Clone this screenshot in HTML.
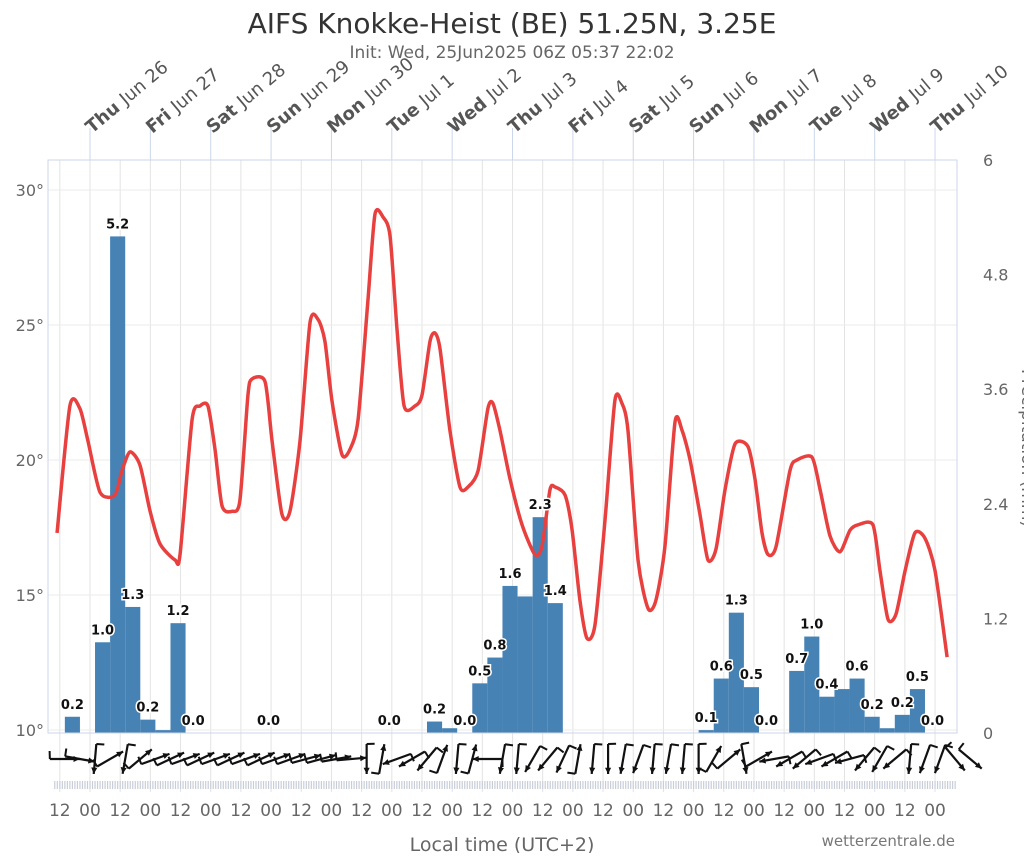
<!DOCTYPE html>
<html><head><meta charset="utf-8"><style>
body{margin:0;background:#fff;font-family:"Liberation Sans","DejaVu Sans",sans-serif}
svg text{font-family:"DejaVu Sans","Liberation Sans",sans-serif}
</style></head><body>
<svg id="chart" width="1024" height="853" viewBox="0 0 1024 853" xmlns="http://www.w3.org/2000/svg">
<text x="512" y="33" text-anchor="middle" font-size="28" fill="#333">AIFS Knokke-Heist (BE) 51.25N, 3.25E</text>
<text x="512" y="58" text-anchor="middle" font-size="17" fill="#666">Init: Wed, 25Jun2025 06Z 05:37 22:02</text>
<g id="grid"></g><g id="bars"></g><g id="temp"></g><g id="labels"></g><g id="axes"></g><g id="wind"></g>
<text x="502" y="851" text-anchor="middle" font-size="19" fill="#666">Local time (UTC+2)</text>
<text x="955" y="846" text-anchor="end" font-size="15" fill="#777">wetterzentrale.de</text>
<text transform="translate(1022,448) rotate(90)" text-anchor="middle" font-size="17" fill="#666">Precipitation (mm)</text>
</svg>
<script>
// ---- data ----
const days = ["Thu|Jun 26","Fri|Jun 27","Sat|Jun 28","Sun|Jun 29","Mon|Jun 30","Tue|Jul 1","Wed|Jul 2","Thu|Jul 3","Fri|Jul 4","Sat|Jul 5","Sun|Jul 6","Mon|Jul 7","Tue|Jul 8","Wed|Jul 9","Thu|Jul 10"];
const tempTicks = [10,15,20,25,30];
const precTicks = ["0","1.2","2.4","3.6","4.8","6"];
// precipitation per 6h, starting hour -10 (relative to Thu Jun 26 00 local)
const precStart = -10;
const precip = [0.17,0,0.95,5.2,1.32,0.14,0.03,1.15,0,0,0,0,0,0,0,0,0,0,0,0,0,0,0,0,0.12,0.05,0,0.52,0.79,1.54,1.43,2.26,1.36,0,0,0,0,0,0,0,0,0,0.03,0.57,1.26,0.48,0,0,0.65,1.01,0.38,0.46,0.57,0.17,0.05,0.19,0.46,0];
const precLabelIdx = [0,2,3,4,5,7,8,13,21,24,26,27,28,29,31,32,42,43,44,45,46,48,49,50,52,53,55,56,57];
const precLabelTxt = ["0.2","1.0","5.2","1.3","0.2","1.2","0.0","0.0","0.0","0.2","0.0","0.5","0.8","1.6","2.3","1.4","0.1","0.6","1.3","0.5","0.0","0.7","1.0","0.4","0.6","0.2","0.2","0.5","0.0"];
const hours = [-13.1,-8,-4,-0.8,4,9.9,12.7,15.9,19.9,23.9,27.8,33.8,35.8,40.6,43.7,46.9,49.7,52.5,56.5,59.6,62.8,64.4,69.6,72.4,76.3,79.5,83.5,87.5,90.7,93.4,96.2,100.2,103.4,106.6,110.5,113.3,116.5,119.3,122.1,124.9,129.2,132,135.2,137.2,139.2,143.1,147.1,150.3,154.3,158.2,160.2,163,167,171.8,176.9,179.7,182.9,184.9,188.9,191.7,194.8,197.6,200.8,204.8,208.7,211.5,213.9,217.9,221.9,225,228.6,232.6,235.4,238.6,242.5,245.7,248.9,252.5,256.5,261.6,264.4,267.2,269.6,272.8,278.3,281.1,287.1,290.3,294.2,298.2,302.2,305.4,311.3,314.1,317.3,320.5,324.1,328,332,336,340.8];
const temps = [17.3,22.0,21.9,20.7,18.8,18.7,19.6,20.3,19.8,18.1,16.9,16.3,16.5,21.5,22.0,22.0,20.4,18.3,18.1,18.5,22.4,23.0,22.9,20.7,18.0,18.1,20.7,25.1,25.2,24.4,22.2,20.2,20.4,21.5,25.9,29.1,29.0,28.3,24.8,22.0,22.0,22.4,24.4,24.7,24.1,21.1,19.0,19.0,19.6,21.9,22.1,21.1,19.3,17.6,16.5,16.8,18.9,19.0,18.7,17.4,14.8,13.4,13.9,17.8,22.2,22.1,21.1,16.3,14.5,14.8,16.8,21.4,21.1,20.0,18.0,16.3,16.7,18.9,20.6,20.5,19.3,17.3,16.5,16.8,19.6,20.0,20.1,18.9,17.2,16.6,17.4,17.6,17.6,15.9,14.1,14.3,15.9,17.3,17.1,15.9,12.7];
// wind arrow direction (deg, screen angle arrow points) every 6h from hour -10
const windDir = [0,10,95,-30,100,-40,-20,-25,-20,-25,-20,-25,-20,-25,-20,-20,-15,-15,-10,-5,90,-80,160,150,130,-70,95,-75,180,100,95,120,130,115,-80,95,90,100,110,95,100,95,90,-60,-40,80,-30,170,150,140,160,150,165,130,120,140,95,110,110,50,40];
// ---- helpers ----
const NS="http://www.w3.org/2000/svg";
const L=48,R=957,T=160,B=733;
const xH=h=>90+h*60.36/24;
const yT=t=>730-(t-10)*27;
const yP=p=>B-p*95.5;
function mk(tag,attrs,parent){const e=document.createElementNS(NS,tag);for(const k in attrs)e.setAttribute(k,attrs[k]);parent.appendChild(e);return e;}
const grid=document.getElementById('grid'),bars=document.getElementById('bars'),tg=document.getElementById('temp'),lg=document.getElementById('labels'),ax=document.getElementById('axes'),wg=document.getElementById('wind');
for(let h=-24;h<=360;h+=12){const x=xH(h);if(x<L||x>R)continue;
 const g=mk('line',{x1:x,x2:x,y1:T,y2:792,stroke:'#e3e3e3','stroke-width':1},grid);
 }
tempTicks.forEach(t=>{const y=yT(t);
 const g=mk('line',{x1:L,x2:R,y1:y,y2:y,stroke:'#ebebeb','stroke-width':1},grid);
 
 const tx=mk('text',{x:44,y:y+6,'text-anchor':'end','font-size':16,fill:'#666'},ax);tx.textContent=t+'°';
 });
precTicks.forEach(p=>{const y=yP(parseFloat(p));
 const tx=mk('text',{x:983,y:y+6,'text-anchor':'start','font-size':16,fill:'#666'},ax);tx.textContent=p;
 });
const fr=mk('rect',{x:L,y:T,width:R-L,height:B-T,fill:'none',stroke:'#ccd6eb','stroke-width':1},ax);

precip.forEach((p,i)=>{if(p<=0)return;const x0=xH(precStart+i*6),x1=xH(precStart+(i+1)*6);
 const r=mk('rect',{x:x0,y:yP(p),width:x1-x0,height:B-yP(p),fill:'#4682b4'},bars);
 });
precLabelIdx.forEach((i,k)=>{const xc=(xH(precStart+i*6)+xH(precStart+(i+1)*6))/2;const p=precip[i];
 const t=mk('text',{x:xc,y:yP(p)-8,'text-anchor':'middle','font-size':13,'font-weight':'bold',fill:'#111',stroke:'#fff','stroke-width':3,'paint-order':'stroke'},lg);
 t.textContent=precLabelTxt[k];
 });
const pts=hours.map((h,i)=>[xH(h),yT(temps[i])]);
let d='M'+pts[0][0]+','+pts[0][1];
for(let i=0;i<pts.length-1;i++){const p0=pts[Math.max(0,i-1)],p1=pts[i],p2=pts[i+1],p3=pts[Math.min(pts.length-1,i+2)];
 const c1=[p1[0]+(p2[0]-p0[0])/8,p1[1]+(p2[1]-p0[1])/8],c2=[p2[0]-(p3[0]-p1[0])/8,p2[1]-(p3[1]-p1[1])/8];
 d+=` C${c1[0]},${c1[1]} ${c2[0]},${c2[1]} ${p2[0]},${p2[1]}`;}
const tl=mk('path',{d:d,fill:'none',stroke:'#e8403f','stroke-width':3.5,'stroke-linejoin':'round'},tg);

days.forEach((s,i)=>{const x=xH(i*24);const [w,dt]=s.split('|');
 const ln=mk('line',{x1:x,x2:x,y1:T,y2:128,stroke:'#ccd6eb'},ax);
 
 const t=mk('text',{transform:`translate(${x+2},${134}) rotate(-40)`,'font-size':18,fill:'#555'},ax);
 
 const a=mk('tspan',{'font-weight':'bold'},t);a.textContent=w+' ';const b=mk('tspan',{},t);b.textContent=dt;});
for(let h=-12;h<=336;h+=12){const x=xH(h);
 const t=mk('text',{x:x,y:816,'text-anchor':'middle','font-size':17,fill:'#666'},ax);t.textContent=(h%24===0)?'00':'12';
 }
for(let h=-14;h<=348;h+=1){const x=xH(h);if(x<L||x>R)continue;
 const m=mk('line',{x1:x,x2:x,y1:781,y2:789,stroke:'#c8cdd8','stroke-width':1.2},ax);
 }
windDir.forEach((a,i)=>{const xc=xH(-10+i*6),yc=759;const r=a*Math.PI/180,len=15;
 const dx=Math.cos(r)*len,dy=Math.sin(r)*len;
 const g=mk('g',{},wg);
 mk('line',{x1:xc-dx,y1:yc-dy,x2:xc+dx,y2:yc+dy,stroke:'#111','stroke-width':2.2},g);
 const hx=xc+dx,hy=yc+dy,ah=7;
 mk('polygon',{points:`${hx},${hy} ${hx-Math.cos(r-0.45)*ah},${hy-Math.sin(r-0.45)*ah} ${hx-Math.cos(r+0.45)*ah},${hy-Math.sin(r+0.45)*ah}`,fill:'#111'},g);
 const bx=xc-dx,by=yc-dy;
 mk('line',{x1:bx,y1:by,x2:bx+Math.cos(r-1.6)*8,y2:by+Math.sin(r-1.6)*8,stroke:'#111','stroke-width':2},g);});
</script>
</body></html>
